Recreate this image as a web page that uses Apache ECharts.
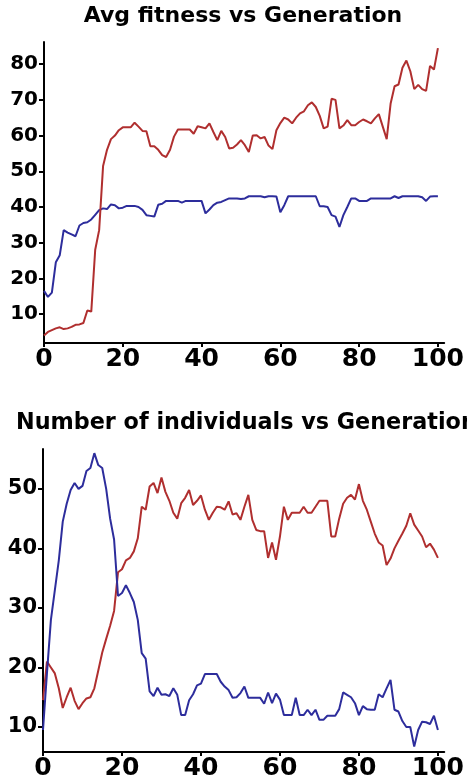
<!DOCTYPE html>
<html>
<head>
<meta charset="utf-8">
<script src="https://cdn.jsdelivr.net/npm/echarts@6/dist/echarts.min.js"></script>
<style>
html,body{margin:0;padding:0;background:#fff;}
#chart{width:467px;height:784px;}
</style>
</head>
<body>
<div id="chart"></div>
<script>
const generations = [0,1,2,3,4,5,6,7,8,9,10,11,12,13,14,15,16,17,18,19,20,21,22,23,24,25,26,27,28,29,30,31,32,33,34,35,36,37,38,39,40,41,42,43,44,45,46,47,48,49,50,51,52,53,54,55,56,57,58,59,60,61,62,63,64,65,66,67,68,69,70,71,72,73,74,75,76,77,78,79,80,81,82,83,84,85,86,87,88,89,90,91,92,93,94,95,96,97,98,99,100];

const fitnessRed = [4,5,5.5,6,6.3,5.8,6,6.4,7,7.1,
  7.5,11,10.7,28,33.5,51.5,56,59,60,61.5,
  62.3,62.3,62.3,63.6,62.5,61.3,61.2,57,57,56,
  54.5,54,56,59.7,61.7,61.7,61.7,61.7,60.5,62.6,
  62.3,62,63.4,61,58.7,61.3,59.6,56.4,56.6,57.5,
  58.7,57.3,55.4,60,60.1,59.2,59.6,57.2,56.2,61.5,
  63.5,65,64.5,63.4,65,66.2,66.8,68.5,69.3,68,
  65.5,62,62.5,70.3,70,62,62.8,64.3,62.9,62.9,
  63.8,64.5,64,63.4,64.8,66,62.5,59,69,73.8,
  74.3,79,81,78,73,74.2,73,72.5,79.5,78.5,
  84.5];

const fitnessBlue = [16.5,14.8,16,24.5,26.5,33.5,32.8,32.3,31.8,34.8,
  35.5,35.7,36.5,37.8,39.1,39.6,39.4,40.7,40.5,39.6,
  39.8,40.3,40.3,40.3,40,39.2,37.7,37.5,37.3,40.6,
  40.9,41.7,41.7,41.7,41.7,41.2,41.7,41.7,41.7,41.7,
  41.7,38.2,39.3,40.5,41.2,41.4,41.9,42.4,42.4,42.4,
  42.2,42.4,43,43,43,43,42.7,43,43,42.9,
  38.5,40.5,43,43,43,43,43,43,43,43,
  40.2,40.2,40,37.7,37.3,34.4,37.7,40,42.4,42.4,
  41.7,41.7,41.7,42.4,42.4,42.4,42.4,42.4,42.4,43,
  42.5,43,43,43,43,43,42.7,41.7,42.9,43,
  43];

const countRed = [14.5,21,20,19,16.5,13.2,15,16.6,14.4,13,
  14,14.8,15,16.5,19.5,22.5,24.8,27,29.5,36,
  36.5,38,38.4,39.5,41.7,47,46.5,50.4,51,49.3,
  51.9,49.5,48,46,45,47.6,48.5,49.8,47.3,48,
  48.9,46.5,44.8,46,47,46.9,46.5,47.9,45.7,45.9,
  44.8,47,49,44.8,43.1,42.9,42.9,38.4,41,38.1,
  42,47,44.8,46,46,46,47,46,46,47,
  48,48,48,42,42,45,47.5,48.5,49,48.2,
  50.8,48,46.5,44.5,42.5,41,40.5,37.2,38.3,40,
  41.3,42.5,43.8,45.9,44,43,42,40.2,40.8,39.8,
  38.4];

const countBlue = [9.5,19,28,33,38,44.5,47.5,49.8,51,50,
  50.5,53,53.5,56,54,53.5,50,45,41.5,32,
  32.5,33.8,32.5,31,28,22.4,21.5,16,15.2,16.6,
  15.4,15.5,15.2,16.5,15.4,12,12,14.5,15.5,17,
  17.3,18.9,18.9,18.9,18.9,17.6,16.8,16.2,14.9,15,
  15.7,16.8,14.9,14.9,14.9,14.9,13.9,15.8,14,15.6,
  14.6,12,12,12,14.9,12,12,12.9,12,12.9,
  11.2,11.2,11.9,11.9,11.9,13,15.8,15.4,15,14,
  12,13.5,13,12.9,12.9,15.5,15,16.5,17.9,12.9,
  12.6,11,10,10,6.7,9.5,10.9,10.8,10.5,11.9,
  9.5];

const xTicks = [0,20,40,60,80,100];
const fitnessTicks = [10,20,30,40,50,60,70,80];
const countTicks = [10,20,30,40,50];
const titles = ['Avg fitness vs Generation', 'Number of individuals vs Generation'];

const RED = '#b02f2f';
const BLUE = '#2d2d9c';
const pairs = (ys) => generations.map((g, i) => [g, ys[i]]);

const chart = echarts.init(document.getElementById('chart'), null, {renderer: 'canvas'});

function xAxisCfg(gridIndex) {
  return {
    type: 'value', gridIndex, min: 0, max: 101.6,
    axisLine: {show: true, onZero: false, lineStyle: {color: '#000', width: 2}},
    axisTick: {show: true, length: 4, customValues: xTicks, lineStyle: {color: '#000', width: 2}},
    axisLabel: {customValues: xTicks, margin: 4, color: '#000', fontFamily: 'DejaVu Sans', fontWeight: 'bold', fontSize: 25},
    splitLine: {show: false}
  };
}
function yAxisCfg(gridIndex, min, max, ticks, fs) {
  return {
    type: 'value', gridIndex, min, max,
    axisLine: {show: true, onZero: false, lineStyle: {color: '#000', width: 2}},
    axisTick: {show: true, length: 5, customValues: ticks, lineStyle: {color: '#000', width: 2}},
    axisLabel: {customValues: ticks, margin: 6, color: '#000', fontFamily: 'DejaVu Sans', fontWeight: 'bold', fontSize: fs},
    splitLine: {show: false}
  };
}
function lineSeries(data, color, xi) {
  return {
    type: 'line', xAxisIndex: xi, yAxisIndex: xi, data: pairs(data),
    showSymbol: false, symbol: 'none', smooth: false, animation: false,
    lineStyle: {color, width: 2}, itemStyle: {color}
  };
}

chart.setOption({
  backgroundColor: '#fff',
  animation: false,
  title: [
    {text: titles[0], left: 243, top: 5, textAlign: 'center', padding: 0,
     textStyle: {fontFamily: 'DejaVu Sans', fontWeight: 'bold', fontSize: 22, color: '#000'}},
    {text: titles[1], left: 16, top: 412, padding: 0,
     textStyle: {fontFamily: 'DejaVu Sans', fontWeight: 'bold', fontSize: 22.3, color: '#000'}}
  ],
  grid: [
    {left: 44, top: 42, width: 406, height: 301},
    {left: 43, top: 449, width: 407, height: 303}
  ],
  xAxis: [xAxisCfg(0), xAxisCfg(1)],
  yAxis: [yAxisCfg(0, 1.9, 86.2, fitnessTicks, 20), yAxisCfg(1, 5.8, 56.7, countTicks, 21)],
  series: [
    lineSeries(fitnessBlue, BLUE, 0),
    lineSeries(fitnessRed, RED, 0),
    lineSeries(countRed, RED, 1),
    lineSeries(countBlue, BLUE, 1)
  ]
});
</script>
</body>
</html>
